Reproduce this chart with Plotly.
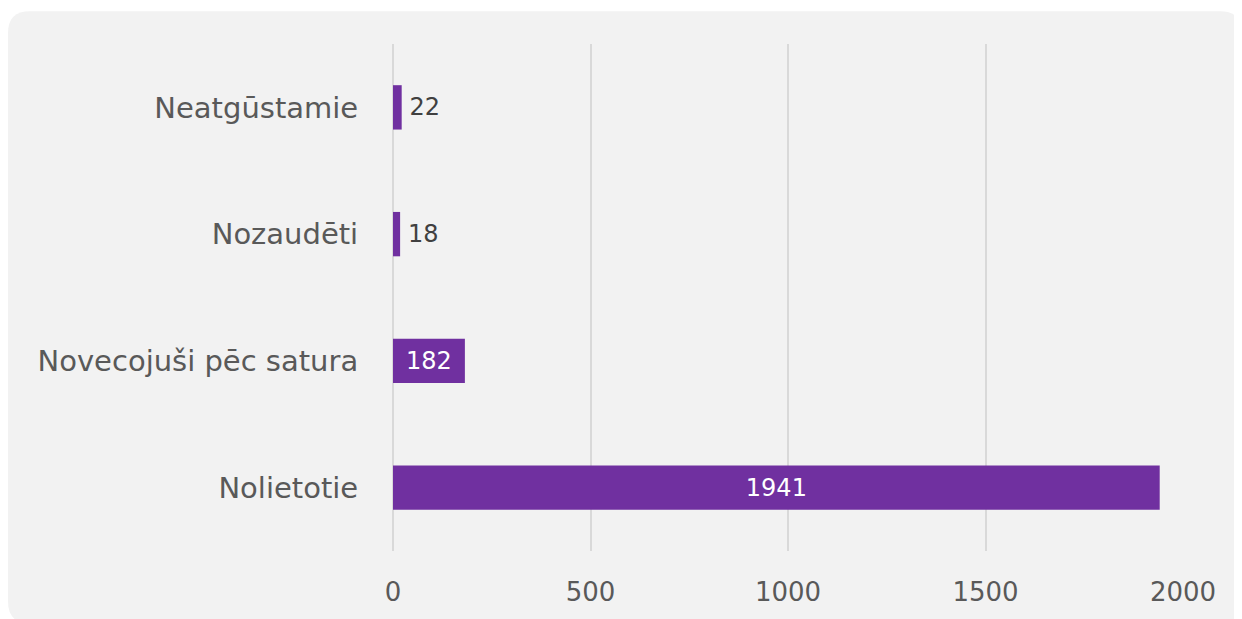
import plotly.graph_objects as go

categories = ["Nolietotie", "Novecojuši pēc satura", "Nozaudēti", "Neatgūstamie"]
values = [1941, 182, 18, 22]
text_positions = ["inside", "inside", "outside", "outside"]
x_ticks = [0, 500, 1000, 1500, 2000]

# figure is placed by the page with an 8px body margin
W, H = 1234, 611
ML, MR, MT, MB = 385, 59, 36, 64
PW, PH = W - ML - MR, H - MT - MB


def px(x):
    return (x - ML) / PW


def py(y):
    return (H - MB - y) / PH


# rounded panel (figure pixel coords -> paper coords)
x0, x1, y0, y1, r = 0, 1234, 3, 620, 22
path = (
    f"M {px(x0 + r)} {py(y0)} L {px(x1 - r)} {py(y0)} "
    f"Q {px(x1)} {py(y0)} {px(x1)} {py(y0 + r)} "
    f"L {px(x1)} {py(y1 - r)} Q {px(x1)} {py(y1)} {px(x1 - r)} {py(y1)} "
    f"L {px(x0 + r)} {py(y1)} Q {px(x0)} {py(y1)} {px(x0)} {py(y1 - r)} "
    f"L {px(x0)} {py(y0 + r)} Q {px(x0)} {py(y0)} {px(x0 + r)} {py(y0)} Z"
)

FONT = "DejaVu Sans"

labels = [("\u2009" + str(v)) if p == "outside" else str(v)
          for v, p in zip(values, text_positions)]

fig = go.Figure(
    go.Bar(
        x=values,
        y=categories,
        orientation="h",
        marker=dict(color="#7030a0", line=dict(width=0)),
        width=0.35,
        text=labels,
        textposition=text_positions,
        insidetextanchor="middle",
        insidetextfont=dict(color="white", size=24, family=FONT),
        outsidetextfont=dict(color="#404040", size=24, family=FONT),
        cliponaxis=False,
        hoverinfo="skip",
    )
)

fig.update_layout(
    width=W,
    height=H,
    margin=dict(l=ML, r=MR, t=MT, b=MB),
    paper_bgcolor="white",
    plot_bgcolor="rgba(0,0,0,0)",
    showlegend=False,
    font=dict(family=FONT, color="#595959"),
    shapes=[
        dict(type="path", path=path, xref="paper", yref="paper",
             fillcolor="#f2f2f2", line=dict(width=0), layer="below")
    ],
    xaxis=dict(
        range=[0, 2000],
        tickvals=x_ticks,
        ticktext=[str(t) for t in x_ticks],
        showgrid=True,
        gridcolor="#d9d9d9",
        gridwidth=2,
        zeroline=True,
        zerolinecolor="#d9d9d9",
        zerolinewidth=2,
        showline=False,
        ticks="outside",
        ticklen=18,
        tickcolor="rgba(0,0,0,0)",
        tickfont=dict(size=26, color="#595959", family=FONT),
        fixedrange=True,
    ),
    yaxis=dict(
        categoryorder="array",
        categoryarray=categories,
        showgrid=False,
        zeroline=False,
        showline=False,
        ticks="outside",
        ticklen=28,
        tickcolor="rgba(0,0,0,0)",
        tickfont=dict(size=29, color="#595959", family=FONT),
        fixedrange=True,
    ),
)

fig.write_html("out.html", config={"displayModeBar": False})
